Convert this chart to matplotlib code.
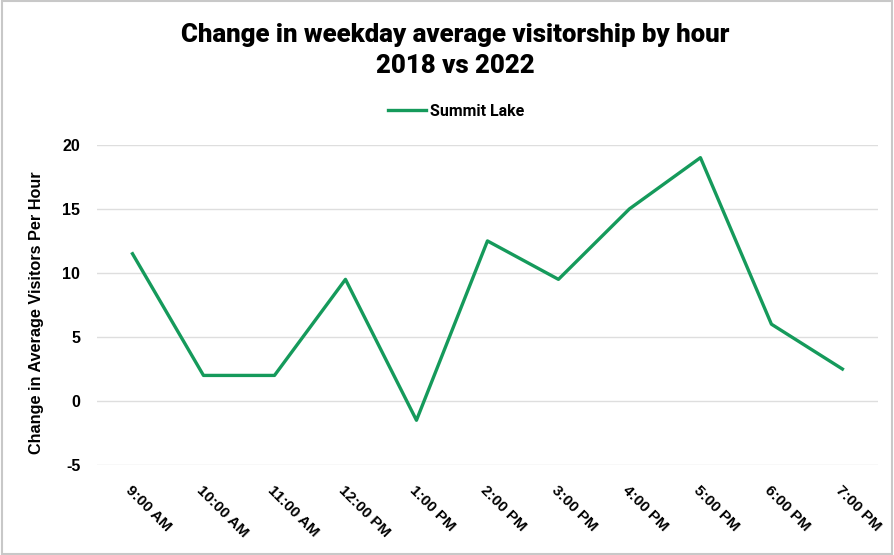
import matplotlib
matplotlib.use("Agg")
import matplotlib.pyplot as plt
from matplotlib.patches import Rectangle

hours = ["9:00 AM", "10:00 AM", "11:00 AM", "12:00 PM", "1:00 PM", "2:00 PM",
         "3:00 PM", "4:00 PM", "5:00 PM", "6:00 PM", "7:00 PM"]
summit_lake = [11.5, 2, 2, 9.5, -1.5, 12.5, 9.5, 15, 19, 6, 2.5]
y_ticks = [-5, 0, 5, 10, 15, 20]

green = "#159a5b"

fig = plt.figure(figsize=(8.94, 5.55), dpi=100)
ax = fig.add_axes([0.1085, 0.162, 0.8735, 0.577])

x = list(range(len(hours)))
line, = ax.plot(x, summit_lake, color=green, linewidth=2.4, label="Summit Lake")

ax.set_xlim(-0.5, len(hours) - 0.5)
ax.set_ylim(-5, 20)
ax.set_yticks(y_ticks)
ax.set_yticklabels([str(t) for t in y_ticks], fontfamily="Liberation Sans",
                   fontweight="bold", fontsize=11.5)
ax.set_xticks(x)
ax.set_xticklabels(hours, rotation=-45, ha="left", rotation_mode="anchor",
                   fontfamily="Liberation Sans", fontweight="bold", fontsize=11)
ax.tick_params(axis="y", length=0, pad=12)
ax.tick_params(axis="x", length=0, pad=13)

ax.grid(axis="y", color="#dedede", linewidth=1)
ax.set_axisbelow(True)
for s in ax.spines.values():
    s.set_visible(False)

ax.set_ylabel("Change in Average Visitors Per Hour", fontfamily="Liberation Sans",
              fontweight="bold", fontsize=11.7)
ax.yaxis.set_label_coords(-0.068, 0.475)

fig.text(0.509, 0.909, "Change in weekday average visitorship by hour\n2018 vs 2022",
         ha="center", va="center", fontfamily="Roboto", fontweight="heavy",
         fontsize=18.5, linespacing=1.36)

fig.legend(handles=[line], loc="center", bbox_to_anchor=(0.51, 0.80),
           frameon=False, prop={"family": "Roboto", "weight": "bold", "size": 11.5},
           handlelength=2.4, handletextpad=0.2)

fig.patches.append(Rectangle((0.002, 0.002), 0.996, 0.996, transform=fig.transFigure,
                             fill=False, edgecolor="#c8c8c8", linewidth=1.5))

fig.savefig("out.png", dpi=100)
